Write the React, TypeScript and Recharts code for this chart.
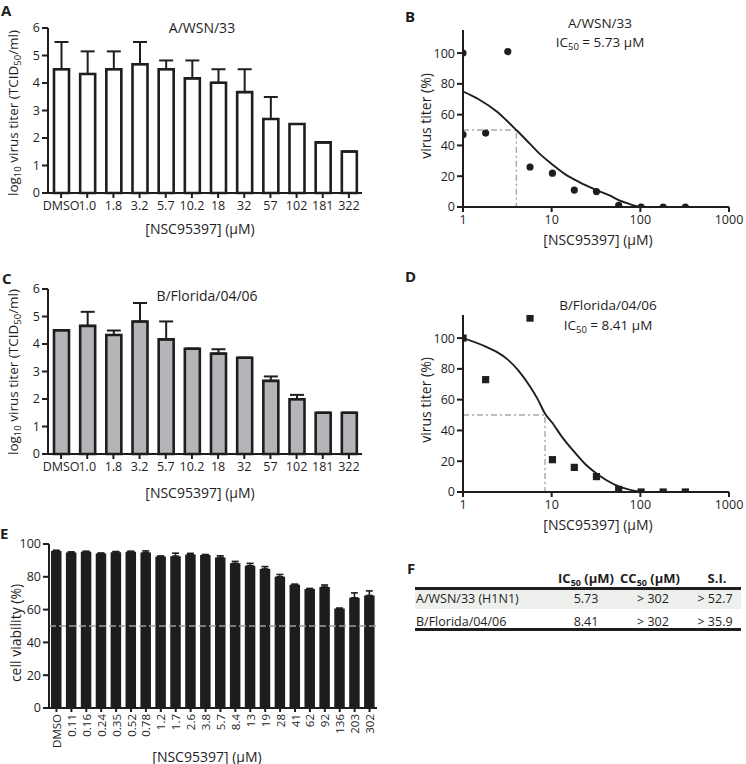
import React from 'react';
import {
  BarChart,
  Bar,
  XAxis,
  YAxis,
  ErrorBar,
  ComposedChart,
  Line,
  Scatter,
  ReferenceLine,
} from 'recharts';

const FONT = '"Open Sans", "DejaVu Sans", sans-serif';
const INK = '#1f1d1e';

// ---------- Panels A & C : virus titer bar charts ----------
const titerCategories = ['DMSO', '1.0', '1.8', '3.2', '5.7', '10.2', '18', '32', '57', '102', '181', '322'];
const wsnTiter = [4.5, 4.33, 4.5, 4.68, 4.5, 4.17, 4.01, 3.67, 2.69, 2.51, 1.84, 1.51];
const wsnTiterErr = [0.99, 0.82, 0.65, 0.81, 0.32, 0.65, 0.49, 0.83, 0.8, 0, 0, 0];
const floridaTiter = [4.5, 4.66, 4.33, 4.82, 4.17, 3.83, 3.65, 3.5, 2.66, 1.99, 1.5, 1.5];
const floridaTiterErr = [0, 0.51, 0.16, 0.67, 0.65, 0, 0.16, 0, 0.16, 0.16, 0, 0];
const titerTicks = [0, 1, 2, 3, 4, 5, 6];

// ---------- Panels B & D : dose response ----------
const wsnDose = [1, 1, 1.8, 3.2, 5.7, 10.2, 18, 32, 57, 102, 181, 322];
const wsnPercent = [100, 47, 48, 101, 26, 22, 11, 10, 1, 0, 0, 0];
const wsnFitDose = [1, 1.5, 2.4, 3, 4, 5.7, 7.5, 10, 14, 20, 32, 45, 57, 75, 90, 100];
const wsnFitPercent = [75, 70, 62, 57, 50, 41, 34, 28, 21.5, 16.5, 11, 7.5, 4.5, 2, 0.6, 0];
const wsnGuideDose = [1, 4, 4];
const wsnGuidePercent = [50, 50, 0];

const floridaDose = [1, 1.8, 5.7, 10.2, 18, 32, 57, 102, 181, 322];
const floridaPercent = [100, 73, 113, 21, 16, 10, 1.7, 0, 0, 0];
const floridaFitDose = [1, 1.8, 2.4, 3.2, 4.2, 5.7, 7, 8.5, 10, 13, 18, 24, 32, 42, 57, 70, 90, 100];
const floridaFitPercent = [100, 94.5, 91, 86, 79, 68.5, 60, 50.5, 45.5, 36, 26, 18, 12, 7.5, 3.7, 2, 0.5, 0];
const floridaGuideDose = [1, 8.41, 8.41];
const floridaGuidePercent = [50, 50, 0];

const logTicks = [1, 10, 100, 1000];
const pctTicks = [0, 20, 40, 60, 80, 100];

// ---------- Panel E : cell viability ----------
const viabilityCategories = ['DMSO', '0.11', '0.16', '0.24', '0.35', '0.52', '0.78', '1.2', '1.7', '2.6', '3.8', '5.7', '8.4', '13', '19', '28', '41', '62', '92', '136', '203', '302'];
const viability = [95.8, 94.8, 95.3, 94.2, 95.0, 95.3, 94.8, 92.4, 92.6, 93.6, 93.3, 91.8, 88.2, 86.8, 84.8, 80.0, 75.2, 72.6, 73.8, 60.6, 67.2, 68.6];
const viabilityErr = [0.4, 0.4, 0.3, 0.3, 0.4, 0.3, 1.0, 0.3, 1.8, 0.7, 0.3, 1.0, 1.2, 1.4, 1.4, 1.4, 0.3, 0.3, 1.2, 0.3, 3.0, 2.8];
const viabilityTicks = [0, 20, 40, 60, 80, 100];

// ---------- Panel F : table ----------
const tableStrains = ['A/WSN/33 (H1N1)', 'B/Florida/04/06'];
const tableIC50 = ['5.73', '8.41'];
const tableCC50 = ['> 302', '> 302'];
const tableSI = ['> 52.7', '> 35.9'];

const wsnData = titerCategories.map((c, i) => ({ c, v: wsnTiter[i], err: [0, wsnTiterErr[i]] }));
const floridaData = titerCategories.map((c, i) => ({ c, v: floridaTiter[i], err: [0, floridaTiterErr[i]] }));
const viabilityData = viabilityCategories.map((c, i) => ({ c, v: viability[i], err: [0, viabilityErr[i]] }));
const zip = (xs: number[], ys: number[]) => xs.map((x, i) => ({ x, y: ys[i] }));

const tickStyle = { fill: INK, fontSize: 12.5, fontFamily: FONT };
const axisStroke = { stroke: INK, strokeWidth: 2 };

function TiterChart({ data, fill }: { data: any[]; fill: string }) {
  return (
    <BarChart width={380} height={240} data={data} margin={{ top: 28, right: 18, bottom: 0, left: 0 }}>
      <XAxis
        dataKey="c"
        height={47}
        interval={0}
        tickSize={5}
        tickMargin={3}
        axisLine={axisStroke}
        tickLine={axisStroke}
        tick={tickStyle}
      />
      <YAxis
        width={48}
        domain={[0, 6]}
        ticks={titerTicks}
        tickSize={6}
        tickMargin={2}
        axisLine={axisStroke}
        tickLine={axisStroke}
        tick={tickStyle}
      />
      <Bar dataKey="v" fill={fill} stroke={INK} strokeWidth={2.6} barSize={15} isAnimationActive={false}>
        <ErrorBar dataKey="err" width={7} stroke={INK} strokeWidth={2} isAnimationActive={false} />
      </Bar>
    </BarChart>
  );
}

const circleShape = (p: any) => <circle cx={p.cx} cy={p.cy} r={3.6} fill={INK} />;
const squareShape = (p: any) => <rect x={p.cx - 3.6} y={p.cy - 3.6} width={7.2} height={7.2} fill={INK} />;

function DoseChart({ points, fit, guide, shape }: { points: any[]; fit: any[]; guide: any[]; shape: any }) {
  return (
    <ComposedChart width={366} height={250} margin={{ top: 30, right: 17, bottom: 0, left: 0 }}>
      <XAxis
        dataKey="x"
        type="number"
        scale="log"
        domain={[1, 1000]}
        ticks={logTicks}
        allowDataOverflow
        height={43}
        tickSize={5}
        tickMargin={3}
        axisLine={axisStroke}
        tickLine={axisStroke}
        tick={tickStyle}
      />
      <YAxis
        type="number"
        domain={[0, 115]}
        ticks={pctTicks}
        allowDataOverflow
        width={83}
        tickSize={6}
        tickMargin={2}
        axisLine={axisStroke}
        tickLine={axisStroke}
        tick={tickStyle}
      />
      <Line
        data={guide}
        dataKey="y"
        type="linear"
        stroke="#a8a8a8"
        strokeWidth={1.4}
        strokeDasharray="6 3 2 3"
        dot={false}
        isAnimationActive={false}
      />
      <Line data={fit} dataKey="y" type="monotone" stroke={INK} strokeWidth={1.9} dot={false} isAnimationActive={false} />
      <Scatter data={points} dataKey="y" shape={shape} isAnimationActive={false} />
    </ComposedChart>
  );
}

const RotTick = (props: any) => {
  const { x, y, payload } = props;
  return (
    <text
      x={x}
      y={y}
      transform={`rotate(-90, ${x}, ${y})`}
      textAnchor="end"
      dominantBaseline="central"
      fill={INK}
      fontSize={11.5}
      fontFamily={FONT}
    >
      {payload.value}
    </text>
  );
};

function ViabilityChart() {
  return (
    <BarChart width={380} height={248} data={viabilityData} margin={{ top: 28, right: 3, bottom: 0, left: 0 }}>
      <XAxis
        dataKey="c"
        height={56}
        interval={0}
        tickSize={4}
        tickMargin={2}
        axisLine={axisStroke}
        tickLine={axisStroke}
        tick={<RotTick />}
      />
      <YAxis
        width={49}
        domain={[0, 100]}
        ticks={viabilityTicks}
        tickSize={6}
        tickMargin={2}
        axisLine={axisStroke}
        tickLine={axisStroke}
        tick={tickStyle}
      />
      <Bar dataKey="v" fill="#1e1c1d" barSize={10.5} isAnimationActive={false}>
        <ErrorBar dataKey="err" width={3.5} stroke={INK} strokeWidth={1.6} isAnimationActive={false} />
      </Bar>
      <ReferenceLine y={50} stroke="#9c9c9c" strokeWidth={1.5} strokeDasharray="7 3" />
    </BarChart>
  );
}

const txt = { fill: INK, fontFamily: FONT } as const;

function ic50Header(prefix: string) {
  return (
    <>
      {prefix}
      <tspan dy={3.5} fontSize={9}>50</tspan>
      <tspan dy={-3.5}> (µM)</tspan>
    </>
  );
}

function Overlay() {
  const letter = (x: number, y: number, s: string) => (
    <text x={x} y={y} fontSize={15} fontWeight={700} {...txt}>
      {s}
    </text>
  );
  const center = (x: number, y: number, s: React.ReactNode, size = 14, weight = 400) => (
    <text x={x} y={y} textAnchor="middle" dominantBaseline="central" fontSize={size} fontWeight={weight} {...txt}>
      {s}
    </text>
  );
  const rot = (x: number, y: number, content: React.ReactNode, size = 14) => (
    <text
      x={x}
      y={y}
      transform={`rotate(-90 ${x} ${y})`}
      textAnchor="middle"
      dominantBaseline="central"
      fontSize={size}
      {...txt}
    >
      {content}
    </text>
  );
  const titerLabel = (
    <>
      log<tspan dy={4} fontSize={9.5}>10</tspan>
      <tspan dy={-4}> virus titer (TCID</tspan>
      <tspan dy={4} fontSize={9.5}>50</tspan>
      <tspan dy={-4}>/ml)</tspan>
    </>
  );
  const ic50 = (v: string) => (
    <>
      IC<tspan dy={3.5} fontSize={9.5}>50</tspan>
      <tspan dy={-3.5}>{` = ${v} µM`}</tspan>
    </>
  );
  const xLabel = '[NSC95397] (µM)';
  const rowY = [598, 621];
  return (
    <svg width={746} height={764} style={{ position: 'absolute', left: 0, top: 0, pointerEvents: 'none' }}>
      {letter(1, 16, 'A')}
      {letter(405, 22, 'B')}
      {letter(2, 284, 'C')}
      {letter(405, 282, 'D')}
      {letter(0, 539, 'E')}
      {letter(407, 574, 'F')}

      {center(202, 27, 'A/WSN/33')}
      {center(207, 295, 'B/Florida/04/06')}
      {center(600, 23, 'A/WSN/33', 13.5)}
      {center(600, 42, ic50('5.73'), 13.5)}
      {center(608, 305, 'B/Florida/04/06', 13.5)}
      {center(608, 325, ic50('8.41'), 13.5)}

      {rot(13, 113, titerLabel, 13.5)}
      {rot(13, 372, titerLabel, 13.5)}
      {rot(425, 116, 'virus titer (%)')}
      {rot(425, 400, 'virus titer (%)')}
      {rot(15, 633, 'cell viability (%)')}

      {center(200, 228, xLabel)}
      {center(200, 492, xLabel)}
      {center(598, 239, xLabel)}
      {center(598, 524, xLabel)}
      {center(207, 756, xLabel)}

      {/* table F */}
      {center(586, 578, ic50Header('IC'), 13, 700)}
      {center(650, 578, ic50Header('CC'), 13, 700)}
      {center(717, 578, 'S.I.', 13, 700)}
      <rect x={415} y={590} width={326} height={19} fill="#eef0ed" />
      <rect x={415} y={587} width={326} height={3} fill={INK} />
      <rect x={415} y={628} width={326} height={3} fill={INK} />
      {tableStrains.map((s, i) => (
        <g key={s}>
          <text x={416} y={rowY[i]} dominantBaseline="central" fontSize={12.5} {...txt}>
            {s}
          </text>
          {center(586, rowY[i], tableIC50[i], 12.5)}
          {center(653, rowY[i], tableCC50[i], 12.5)}
          {center(715, rowY[i], tableSI[i], 12.5)}
        </g>
      ))}
    </svg>
  );
}

export default function App() {
  const abs = (left: number, top: number): React.CSSProperties => ({ position: 'absolute', left, top });
  return (
    <div style={{ position: 'absolute', left: 0, top: 0, width: 746, height: 764, background: '#fff', overflow: 'hidden', fontFamily: FONT }}>
      <div style={abs(0, 0)}>
        <TiterChart data={wsnData} fill="#ffffff" />
      </div>
      <div style={abs(0, 261)}>
        <TiterChart data={floridaData} fill="#b5b4b9" />
      </div>
      <div style={abs(380, 0)}>
        <DoseChart
          points={zip(wsnDose, wsnPercent)}
          fit={zip(wsnFitDose, wsnFitPercent)}
          guide={zip(wsnGuideDose, wsnGuidePercent)}
          shape={circleShape}
        />
      </div>
      <div style={abs(380, 285)}>
        <DoseChart
          points={zip(floridaDose, floridaPercent)}
          fit={zip(floridaFitDose, floridaFitPercent)}
          guide={zip(floridaGuideDose, floridaGuidePercent)}
          shape={squareShape}
        />
      </div>
      <div style={abs(0, 516)}>
        <ViabilityChart />
      </div>
      <Overlay />
    </div>
  );
}
